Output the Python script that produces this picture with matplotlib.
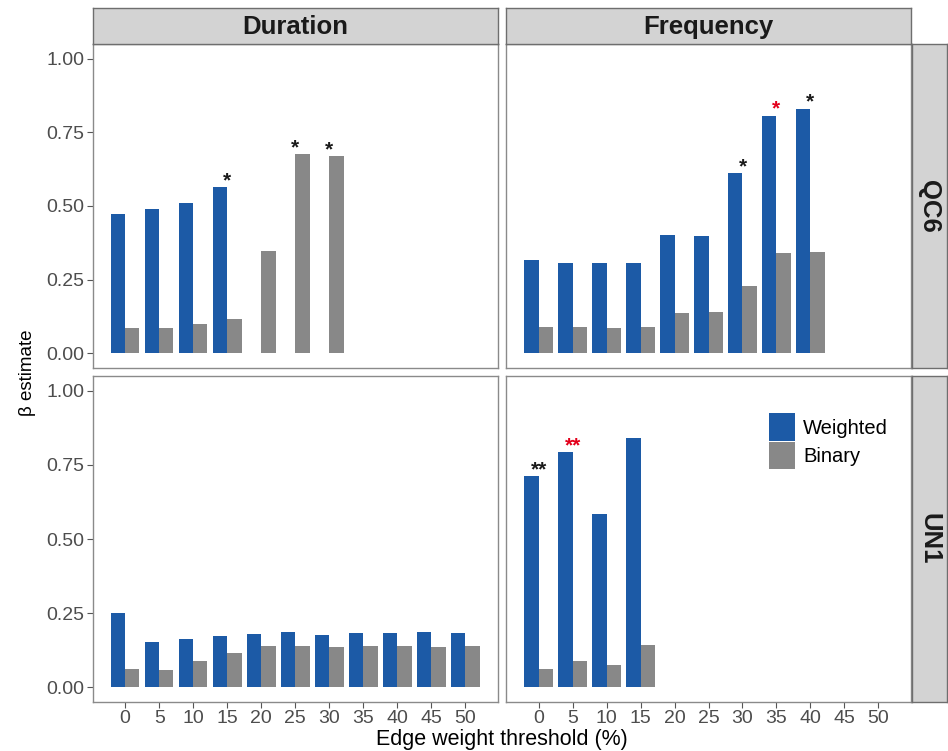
import matplotlib.pyplot as plt
import numpy as np

nan = np.nan

thresholds = [0, 5, 10, 15, 20, 25, 30, 35, 40, 45, 50]

# beta estimates per network (row) and measure (column)
dur_qc6_weighted = [0.473, 0.490, 0.511, 0.563, nan, nan, nan, nan, nan, nan, nan]
dur_qc6_binary = [0.087, 0.085, 0.098, 0.118, 0.347, 0.677, 0.670, nan, nan, nan, nan]
freq_qc6_weighted = [0.315, 0.308, 0.306, 0.305, 0.400, 0.399, 0.611, 0.807, 0.831, nan, nan]
freq_qc6_binary = [0.090, 0.089, 0.087, 0.088, 0.138, 0.139, 0.228, 0.341, 0.345, nan, nan]
dur_un1_weighted = [0.250, 0.152, 0.161, 0.173, 0.179, 0.185, 0.177, 0.184, 0.184, 0.186, 0.184]
dur_un1_binary = [0.063, 0.059, 0.087, 0.114, 0.138, 0.138, 0.135, 0.138, 0.138, 0.137, 0.138]
freq_un1_weighted = [0.712, 0.793, 0.583, 0.840, nan, nan, nan, nan, nan, nan, nan]
freq_un1_binary = [0.063, 0.088, 0.076, 0.142, nan, nan, nan, nan, nan, nan, nan]

# significance marks: (threshold, series, label, colour)
dur_qc6_stars = [(15, "w", "*", "black"), (25, "b", "*", "black"), (30, "b", "*", "black")]
freq_qc6_stars = [(30, "w", "*", "black"), (35, "w", "*", "red"), (40, "w", "*", "black")]
dur_un1_stars = []
freq_un1_stars = [(0, "w", "**", "black"), (5, "w", "**", "red")]

col_labels = ["Duration", "Frequency"]
row_labels = ["QC6", "UN1"]

blue = "#1C5AA6"
grey = "#888888"
star_red = "#E3001B"

plt.rcParams["font.family"] = ["Liberation Sans", "DejaVu Sans"]

fig = plt.figure(figsize=(9.48, 7.51), dpi=100)
fig.patch.set_facecolor("white")

W, H = 948, 751
col_x = [(92.5, 498), (506, 911)]
row_y = [(44, 368), (376, 702)]

panels = [
    [(dur_qc6_weighted, dur_qc6_binary, dur_qc6_stars),
     (freq_qc6_weighted, freq_qc6_binary, freq_qc6_stars)],
    [(dur_un1_weighted, dur_un1_binary, dur_un1_stars),
     (freq_un1_weighted, freq_un1_binary, freq_un1_stars)],
]

bw = 2.1
x = np.array(thresholds, dtype=float)
axes = {}
for r in range(2):
    for c in range(2):
        x0, x1 = col_x[c]
        y0, y1 = row_y[r]
        ax = fig.add_axes([x0 / W, 1 - y1 / H, (x1 - x0) / W, (y1 - y0) / H])
        axes[(r, c)] = ax
        weighted, binary, stars = panels[r][c]
        ax.bar(x - bw / 2, weighted, width=bw, color=blue, label="Weighted", zorder=2)
        ax.bar(x + bw / 2, binary, width=bw, color=grey, label="Binary", zorder=2)
        for t, s, lab, col in stars:
            i = thresholds.index(t)
            val = weighted[i] if s == "w" else binary[i]
            ax.annotate(lab, xy=(t, val), xytext=(0, 0.5), textcoords="offset points",
                        ha="center", va="baseline", fontsize=15, fontweight="bold",
                        color=star_red if col == "red" else "#1A1A1A")
        ax.set_xlim(-4.8, 54.8)
        ax.set_ylim(-0.05, 1.05)
        ax.set_xticks(thresholds)
        ax.set_yticks([0, 0.25, 0.5, 0.75, 1.0])
        ax.set_yticklabels(["0.00", "0.25", "0.50", "0.75", "1.00"])
        ax.tick_params(colors="#555555", labelcolor="#4D4D4D", labelsize=14,
                       length=4, width=0.8, pad=2)
        if c == 1:
            ax.tick_params(axis="y", left=False, labelleft=False)
        if r == 0:
            ax.tick_params(axis="x", bottom=False, labelbottom=False)
        for sp in ax.spines.values():
            sp.set_color("#8A8A8A")
            sp.set_linewidth(1.0)
        ax.set_facecolor("white")

# column strips
for c in range(2):
    x0, x1 = col_x[c]
    sax = fig.add_axes([x0 / W, 1 - 44 / H, (x1 - x0) / W, 36 / H])
    sax.set_facecolor("#D3D3D3")
    sax.set_xticks([])
    sax.set_yticks([])
    for sp in sax.spines.values():
        sp.set_color("#6E6E6E")
        sp.set_linewidth(1.0)
    sax.text(0.5, 0.47, col_labels[c], ha="center", va="center", fontsize=18.5,
             fontweight="bold", color="#1A1A1A", transform=sax.transAxes)

# row strips
for r in range(2):
    y0, y1 = row_y[r]
    sax = fig.add_axes([912 / W, 1 - y1 / H, 35 / W, (y1 - y0) / H])
    sax.set_facecolor("#D3D3D3")
    sax.set_xticks([])
    sax.set_yticks([])
    for sp in sax.spines.values():
        sp.set_color("#6E6E6E")
        sp.set_linewidth(1.0)
    sax.text(0.5, 0.5, row_labels[r], ha="center", va="center", fontsize=18.5,
             fontweight="bold", color="#1A1A1A", rotation=-90, transform=sax.transAxes)

axes[(1, 1)].legend(loc="upper left", bbox_to_anchor=(0.649, 0.885), frameon=False,
                    fontsize=14.5, handlelength=1.3, handleheight=1.69,
                    labelspacing=0.05, handletextpad=0.4, borderpad=0, borderaxespad=0)

fig.text((92.5 + 911) / 2 / W, 1 - 745 / H, "Edge weight threshold (%)", ha="center",
         va="baseline", fontsize=15.5, color="black")
fig.text(27 / W, 1 - 373 / H, "β estimate", ha="center", va="center", rotation=90,
         fontsize=13.5, color="black")

fig.savefig("out.png", dpi=100)
